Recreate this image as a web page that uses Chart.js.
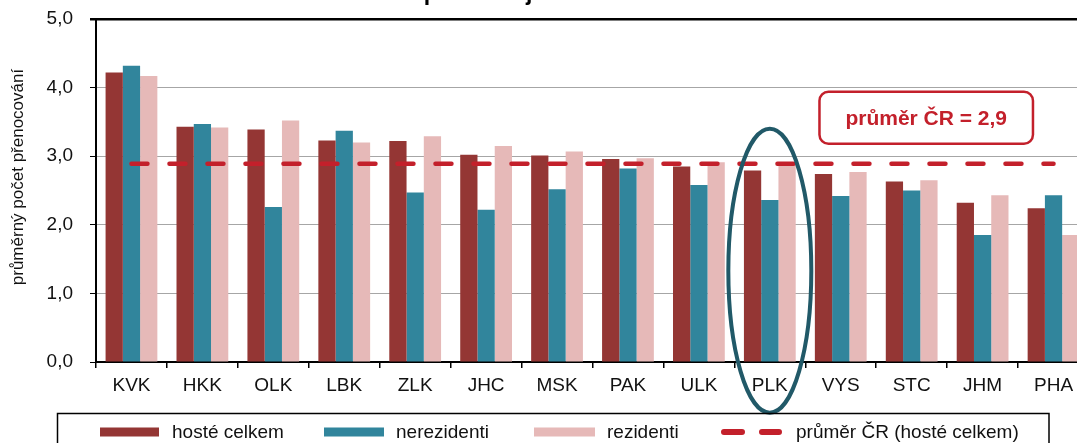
<!DOCTYPE html>
<html lang="cs">
<head>
<meta charset="UTF-8">
<title>Průměrný počet přenocování podle krajů</title>
<script src="https://cdn.jsdelivr.net/npm/chart.js"></script>
<style>
    * { margin: 0; padding: 0; box-sizing: border-box; }
    html, body { width: 1077px; height: 443px; overflow: hidden; background: #fff; }
    /* the reference is cropped at the top, right and bottom, so the canvas is bigger than the window */
    #wrap { position: absolute; left: 0; top: -20px; width: 1100px; height: 480px; }
</style>
</head>
<body>
<div id="wrap"><canvas id="myChart" width="1100" height="480"></canvas></div>

<script>
    // data
    const kraje = ['KVK', 'HKK', 'OLK', 'LBK', 'ZLK', 'JHC', 'MSK', 'PAK', 'ULK', 'PLK', 'VYS', 'STC', 'JHM', 'PHA'];
    const hosteCelkem = [4.22, 3.43, 3.39, 3.23, 3.22, 3.02, 3.01, 2.96, 2.85, 2.79, 2.74, 2.63, 2.32, 2.24];
    const nerezidenti = [4.32, 3.47, 2.26, 3.37, 2.47, 2.22, 2.52, 2.82, 2.58, 2.36, 2.42, 2.50, 1.85, 2.43];
    const rezidenti = [4.17, 3.42, 3.52, 3.20, 3.29, 3.15, 3.07, 2.97, 2.91, 2.90, 2.77, 2.65, 2.43, 1.85];
    const prumerCR = 2.89;
    const yTicks = [0, 1, 2, 3, 4, 5];
    const zvyrazneny = 'PLK';

    const FONT = '"Liberation Sans", Arial, sans-serif';
    const TMAVA = '#943634';
    const MODRA = '#31859C';
    const RUZOVA = '#E6B9B8';
    const CERVENA = '#C3202B';
    const ELIPSA = '#215968';

    // text on the chart, drawn by hand
    const titulek = 'podle krajů v roce 2019';
    const osaY = 'průměrný počet přenocování';
    const popisek = 'průměr ČR = ' + prumerCR.toFixed(1).replace('.', ',');

    Chart.defaults.font.family = FONT;
    Chart.defaults.font.size = 19;
    Chart.defaults.color = '#111';

    const extras = {
        id: 'extras',
        afterDatasetsDraw(chart) {
            const ctx = chart.ctx;
            const x = chart.scales.x;
            const y = chart.scales.y;
            const cw = x.getPixelForValue(1) - x.getPixelForValue(0);

            // label box with the average
            const bx0 = x.getPixelForValue(9) + 0.70 * cw;
            const bx1 = x.getPixelForValue(12) + 0.71 * cw;
            const by0 = y.getPixelForValue(3.94);
            const by1 = y.getPixelForValue(3.18);
            ctx.save();
            ctx.beginPath();
            ctx.roundRect(bx0, by0, bx1 - bx0, by1 - by0, 9);
            ctx.fillStyle = '#fff';
            ctx.fill();
            ctx.lineWidth = 2.5;
            ctx.strokeStyle = CERVENA;
            ctx.stroke();
            ctx.fillStyle = CERVENA;
            ctx.font = 'bold 21px ' + FONT;
            ctx.textAlign = 'center';
            ctx.textBaseline = 'middle';
            ctx.fillText(popisek, (bx0 + bx1) / 2, (by0 + by1) / 2 + 1);
            ctx.restore();
        },
        afterDraw(chart) {
            const ctx = chart.ctx;
            const x = chart.scales.x;
            const y = chart.scales.y;
            const area = chart.chartArea;
            const cw = x.getPixelForValue(1) - x.getPixelForValue(0);
            ctx.save();

            // title, mostly cut off by the top edge
            ctx.fillStyle = '#000';
            ctx.font = 'bold 23px ' + FONT;
            ctx.textAlign = 'center';
            ctx.textBaseline = 'alphabetic';
            ctx.fillText(titulek, 551, 19.5);

            // y axis title
            ctx.save();
            ctx.translate(18, 197);
            ctx.rotate(-Math.PI / 2);
            ctx.font = '17px ' + FONT;
            ctx.fillStyle = '#111';
            ctx.textAlign = 'center';
            ctx.textBaseline = 'middle';
            ctx.fillText(osaY, 0, 0);
            ctx.restore();

            // ellipse round the highlighted region
            const i = kraje.indexOf(zvyrazneny);
            const top = y.getPixelForValue(3.40);
            const bottom = y.getPixelForValue(-0.74);
            ctx.beginPath();
            ctx.ellipse(x.getPixelForValue(i), (top + bottom) / 2, 0.585 * cw, (bottom - top) / 2, 0, 0, Math.PI * 2);
            ctx.lineWidth = 4;
            ctx.strokeStyle = ELIPSA;
            ctx.stroke();

            // legend box
            const ly = 452;
            ctx.lineWidth = 1.5;
            ctx.strokeStyle = '#000';
            ctx.strokeRect(57.5, 433.5, 991.5, 80);
            ctx.font = '19px ' + FONT;
            ctx.fillStyle = '#111';
            ctx.textAlign = 'left';
            ctx.textBaseline = 'middle';
            const items = [
                { c: TMAVA, x0: 100, x1: 159, tx: 172, t: 'hosté celkem' },
                { c: MODRA, x0: 324, x1: 384, tx: 396, t: 'nerezidenti' },
                { c: RUZOVA, x0: 534, x1: 595, tx: 607, t: 'rezidenti' }
            ];
            items.forEach(it => {
                ctx.fillStyle = it.c;
                ctx.fillRect(it.x0, ly - 4.5, it.x1 - it.x0, 9);
                ctx.fillStyle = '#111';
                ctx.fillText(it.t, it.tx, ly + 1);
            });
            ctx.strokeStyle = CERVENA;
            ctx.lineWidth = 6;
            ctx.lineCap = 'round';
            ctx.beginPath();
            ctx.moveTo(724, ly); ctx.lineTo(742, ly);
            ctx.moveTo(762, ly); ctx.lineTo(779, ly);
            ctx.stroke();
            ctx.fillText('průměr ČR (hosté celkem)', 796, ly + 1);
            ctx.restore();
        }
    };

    new Chart(document.getElementById('myChart'), {
        type: 'bar',
        data: {
            labels: kraje,
            datasets: [
                { label: 'hosté celkem', data: hosteCelkem, backgroundColor: TMAVA, order: 1 },
                { label: 'nerezidenti', data: nerezidenti, backgroundColor: MODRA, order: 1 },
                { label: 'rezidenti', data: rezidenti, backgroundColor: RUZOVA, order: 1 },
                {
                    type: 'line',
                    label: 'průměr ČR (hosté celkem)',
                    data: kraje.map(() => prumerCR),
                    borderColor: CERVENA,
                    borderWidth: 4.5,
                    borderDash: [16, 22],
                    borderCapStyle: 'round',
                    pointRadius: 0,
                    order: 0
                }
            ]
        },
        plugins: [extras],
        options: {
            responsive: false,
            animation: false,
            devicePixelRatio: 1,
            layout: { padding: { left: 0, right: 11, top: 39, bottom: 0 } },
            datasets: { bar: { categoryPercentage: 0.73, barPercentage: 1.0 } },
            plugins: { legend: { display: false }, tooltip: { enabled: false } },
            scales: {
                x: {
                    afterFit(scale) { scale.height = 98; },
                    grid: {
                        offset: true,
                        drawOnChartArea: false,
                        color: '#000',
                        lineWidth: 1.5,
                        tickLength: 6
                    },
                    border: { color: '#000', width: 2 },
                    ticks: { padding: 6, maxRotation: 0 }
                },
                y: {
                    min: 0,
                    max: 5,
                    afterFit(scale) { scale.width = 96; },
                    afterBuildTicks(scale) { scale.ticks = yTicks.map(v => ({ value: v })); },
                    grid: {
                        color: c => (c.tick && (c.tick.value === 5)) ? '#000' : '#A6A6A6',
                        lineWidth: c => (c.tick && c.tick.value === 5) ? 2.5 : 1,
                        tickColor: '#000',
                        tickLength: 6
                    },
                    border: { color: '#000', width: 2 },
                    ticks: {
                        padding: 17,
                        callback: v => v.toFixed(1).replace('.', ',')
                    }
                }
            }
        }
    });
</script>
</body>
</html>
